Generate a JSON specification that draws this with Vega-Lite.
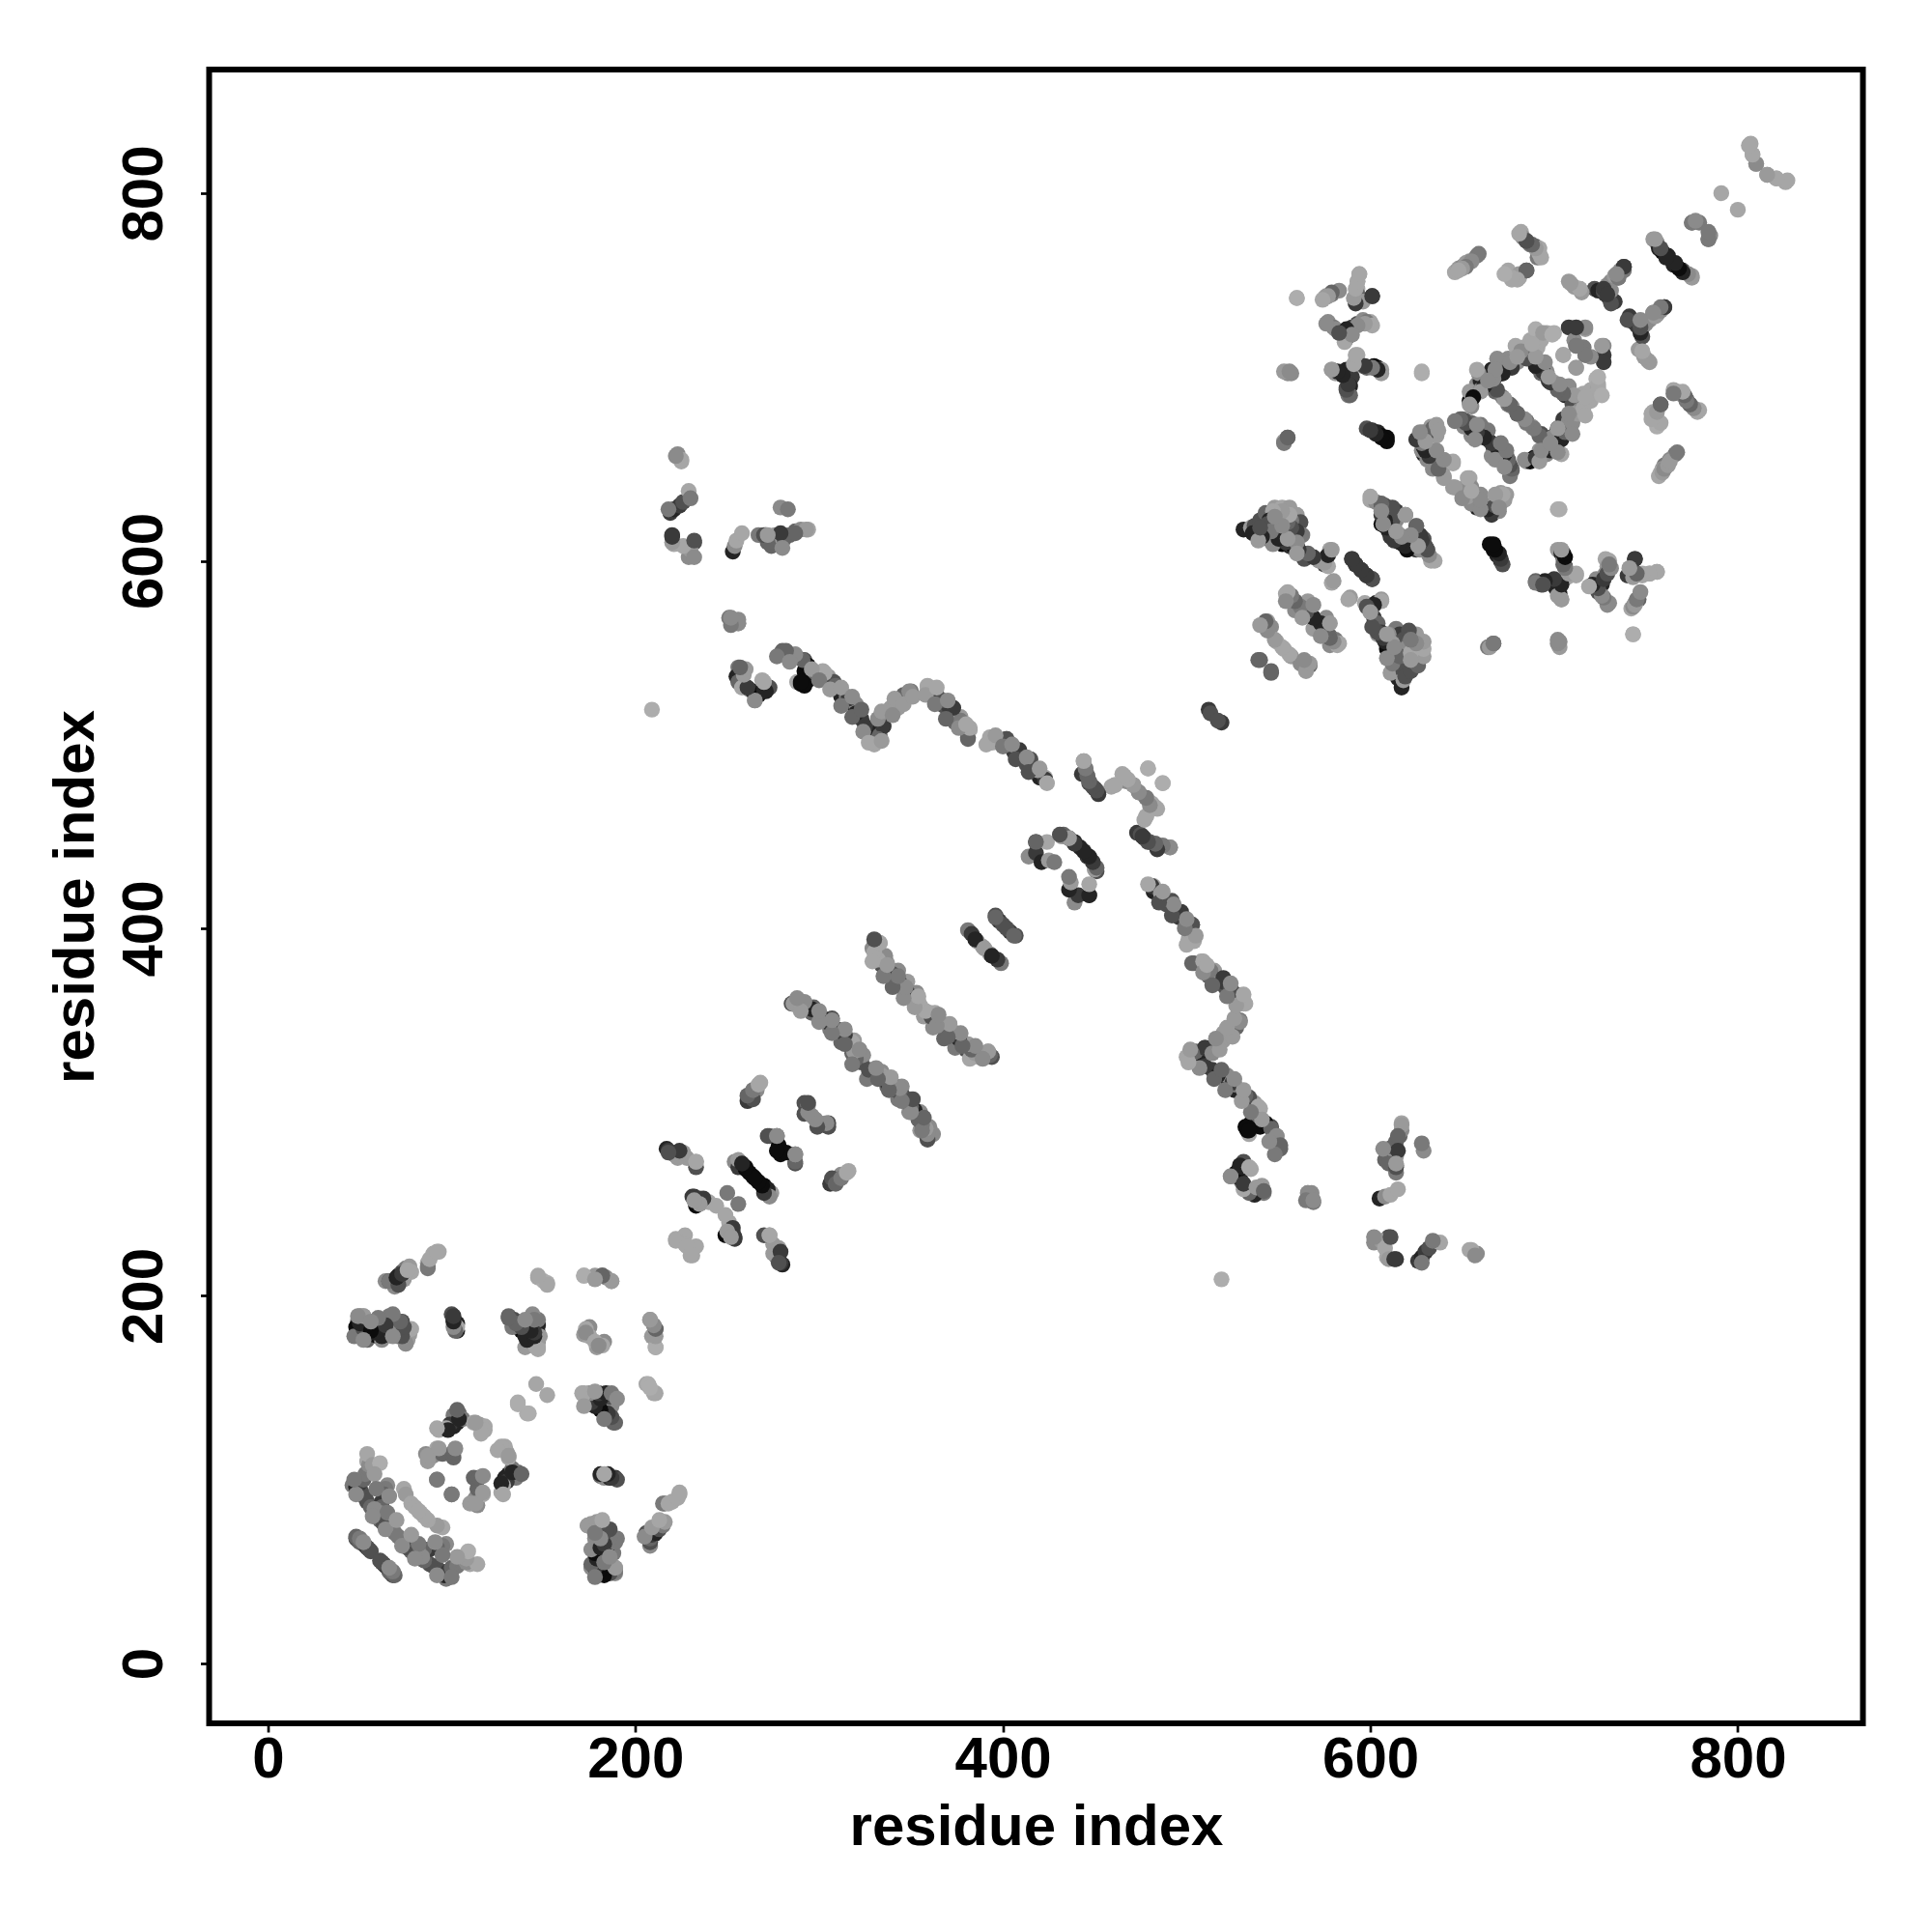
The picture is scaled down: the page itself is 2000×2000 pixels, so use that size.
{"$schema":"https://vega.github.io/schema/vega-lite/v6.json","width":1712,"height":1712,"autosize":"none","padding":{"left":216.5,"top":72,"right":71,"bottom":216},"background":"white","config":{"view":{"stroke":"black","strokeWidth":6}},
"data":{"values":[
{"a":48,"b":68,"g":6},{"a":49,"b":67,"g":6},{"a":50,"b":66,"g":5},{"a":52,"b":65,"g":5},{"a":53,"b":64,"g":6},{"a":54,"b":63,"g":7},{"a":55,"b":62,"g":6},{"a":56,"b":61,"g":6},{"a":48,"b":69,"g":5},{"a":50,"b":68,"g":4},{"a":52,"b":66,"g":3},
{"a":46,"b":97,"g":4},{"a":48,"b":96,"g":8},{"a":49,"b":98,"g":9},{"a":50,"b":95,"g":8},{"a":51,"b":93,"g":6},{"a":53,"b":90,"g":6},{"a":54,"b":88,"g":6},{"a":50,"b":98,"g":7},{"a":52,"b":100,"g":5},{"a":53,"b":103,"g":4},{"a":55,"b":106,"g":4},{"a":54,"b":110,"g":1},{"a":55,"b":108,"g":3},{"a":54,"b":114,"g":1},{"a":57,"b":108,"g":2},{"a":61,"b":109,"g":0},{"a":56,"b":85,"g":5},
{"a":65,"b":97,"g":3},{"a":64,"b":95,"g":4},{"a":63,"b":92,"g":5},{"a":62,"b":88,"g":7},{"a":62,"b":85,"g":5},{"a":61,"b":82,"g":4},{"a":60,"b":80,"g":4},{"a":61,"b":78,"g":5},{"a":63,"b":76,"g":6},{"a":65,"b":75,"g":6},{"a":67,"b":73,"g":5},{"a":69,"b":71,"g":4},
{"a":74,"b":95,"g":1},{"a":75,"b":92,"g":2},{"a":78,"b":87,"g":1},{"a":80,"b":85,"g":1},{"a":83,"b":82,"g":1},
{"a":86,"b":114,"g":3},{"a":88,"b":112,"g":2},{"a":92,"b":117,"g":1},{"a":90,"b":113,"g":3},{"a":95,"b":114,"g":5},{"a":101,"b":112,"g":5},{"a":101,"b":115,"g":5},{"a":92,"b":100,"g":4},{"a":100,"b":92,"g":4},
{"a":104,"b":136,"g":5},{"a":101,"b":135,"g":4},{"a":103,"b":131,"g":8},{"a":101,"b":129,"g":8},{"a":99,"b":130,"g":7},{"a":97,"b":128,"g":1},{"a":93,"b":127,"g":1},{"a":106,"b":133,"g":4},{"a":112,"b":131,"g":1},{"a":115,"b":130,"g":2},{"a":118,"b":129,"g":1},
{"a":87,"b":110,"g":2},{"a":87,"b":113,"g":2},{"a":93,"b":117,"g":2},{"a":102,"b":117,"g":3},{"a":98,"b":127,"g":8},{"a":92,"b":128,"g":1},{"a":118,"b":127,"g":1},{"a":116,"b":125,"g":1},{"a":113,"b":131,"g":2},{"a":104,"b":133,"g":8},{"a":103,"b":138,"g":5},
{"a":50,"b":189,"g":4},{"a":49,"b":186,"g":6},{"a":48,"b":183,"g":9},{"a":50,"b":180,"g":9},{"a":52,"b":178,"g":7},{"a":54,"b":176,"g":5},{"a":52,"b":189,"g":2},{"a":57,"b":179,"g":8},{"a":60,"b":178,"g":9},{"a":62,"b":176,"g":3},{"a":63,"b":181,"g":8},{"a":64,"b":185,"g":9},{"a":66,"b":189,"g":4},{"a":68,"b":186,"g":4},{"a":65,"b":183,"g":7},{"a":73,"b":186,"g":6},{"a":72,"b":184,"g":6},{"a":75,"b":181,"g":6},{"a":75,"b":174,"g":2},{"a":76,"b":176,"g":2},{"a":77,"b":179,"g":2},
{"a":100,"b":190,"g":6},{"a":101,"b":187,"g":7},{"a":103,"b":185,"g":8},{"a":103,"b":181,"g":8},{"a":103,"b":183,"g":1},
{"a":131,"b":189,"g":5},{"a":134,"b":187,"g":6},{"a":136,"b":185,"g":7},{"a":138,"b":181,"g":9},{"a":140,"b":178,"g":8},{"a":142,"b":176,"g":7},{"a":145,"b":186,"g":6},{"a":144,"b":181,"g":8},{"a":147,"b":180,"g":7},{"a":147,"b":184,"g":8},{"a":147,"b":187,"g":4},{"a":147,"b":175,"g":3},{"a":147,"b":172,"g":1},
{"a":64,"b":208,"g":3},{"a":66,"b":208,"g":6},{"a":68,"b":208,"g":5},{"a":70,"b":209,"g":7},{"a":71,"b":211,"g":8},{"a":73,"b":213,"g":6},{"a":75,"b":215,"g":4},{"a":77,"b":216,"g":2},{"a":87,"b":215,"g":4},{"a":87,"b":218,"g":1},{"a":90,"b":223,"g":1},{"a":93,"b":224,"g":1},
{"a":147,"b":210,"g":1},{"a":152,"b":207,"g":0},{"a":150,"b":208,"g":0},{"a":172,"b":211,"g":0},{"a":178,"b":211,"g":2},{"a":182,"b":211,"g":5},{"a":184,"b":210,"g":3},{"a":187,"b":208,"g":2},
{"a":175,"b":183,"g":3},{"a":173,"b":182,"g":1},{"a":172,"b":179,"g":2},{"a":175,"b":178,"g":1},{"a":173,"b":180,"g":3},
{"a":146,"b":152,"g":1},{"a":136,"b":142,"g":0},{"a":141,"b":136,"g":0},
{"a":171,"b":147,"g":1},{"a":172,"b":146,"g":1},{"a":176,"b":141,"g":8},{"a":178,"b":145,"g":8},{"a":180,"b":145,"g":7},{"a":181,"b":143,"g":8},{"a":183,"b":138,"g":6},{"a":185,"b":135,"g":5},{"a":187,"b":145,"g":4},{"a":187,"b":140,"g":3},{"a":188,"b":131,"g":5},
{"a":206,"b":152,"g":1},{"a":211,"b":147,"g":1},{"a":208,"b":187,"g":2},{"a":211,"b":182,"g":5},{"a":211,"b":172,"g":0},{"a":209,"b":178,"g":2},
{"a":181,"b":102,"g":5},{"a":183,"b":101,"g":3},{"a":186,"b":101,"g":8},{"a":189,"b":101,"g":7},
{"a":174,"b":75,"g":3},{"a":178,"b":73,"g":6},{"a":183,"b":74,"g":6},{"a":186,"b":72,"g":5},{"a":190,"b":68,"g":4},{"a":178,"b":62,"g":8},{"a":180,"b":58,"g":8},{"a":184,"b":64,"g":7},{"a":182,"b":52,"g":6},{"a":185,"b":50,"g":8},{"a":189,"b":52,"g":2},{"a":181,"b":56,"g":9},
{"a":208,"b":66,"g":4},{"a":206,"b":71,"g":6},{"a":210,"b":70,"g":8},{"a":212,"b":73,"g":7},{"a":214,"b":76,"g":1},{"a":216,"b":87,"g":4},{"a":220,"b":88,"g":1},{"a":224,"b":92,"g":1},
{"a":217,"b":280,"g":8},{"a":219,"b":278,"g":7},{"a":221,"b":277,"g":5},{"a":224,"b":276,"g":4},{"a":228,"b":275,"g":2},{"a":233,"b":270,"g":6},{"a":233,"b":273,"g":2},
{"a":254,"b":273,"g":3},{"a":256,"b":270,"g":7},{"a":260,"b":269,"g":9},{"a":262,"b":267,"g":9},{"a":264,"b":265,"g":9},
{"a":270,"b":260,"g":9},{"a":274,"b":256,"g":2},{"a":272,"b":258,"g":8},
{"a":273,"b":287,"g":5},{"a":277,"b":287,"g":2},{"a":278,"b":282,"g":9},{"a":277,"b":287,"g":3},{"a":279,"b":277,"g":9},{"a":287,"b":272,"g":6},{"a":287,"b":277,"g":3},
{"a":292,"b":305,"g":6},{"a":294,"b":304,"g":3},{"a":292,"b":299,"g":6},{"a":296,"b":298,"g":3},{"a":300,"b":294,"g":3},{"a":305,"b":294,"g":6},
{"a":261,"b":306,"g":7},{"a":263,"b":310,"g":5},{"a":266,"b":312,"g":3},{"a":268,"b":316,"g":1},
{"a":264,"b":307,"g":6},{"a":261,"b":309,"g":5},{"a":264,"b":312,"g":4},{"a":267,"b":315,"g":1},
{"a":231,"b":254,"g":7},{"a":233,"b":253,"g":8},{"a":235,"b":253,"g":5},{"a":237,"b":252,"g":1},{"a":240,"b":251,"g":1},{"a":244,"b":249,"g":1},{"a":237,"b":253,"g":7},{"a":250,"b":256,"g":4},{"a":232,"b":254,"g":7},{"a":233,"b":249,"g":9},{"a":235,"b":250,"g":2},{"a":232,"b":252,"g":2},{"a":222,"b":231,"g":1},{"a":227,"b":233,"g":1},{"a":227,"b":228,"g":1},{"a":222,"b":230,"g":1},
{"a":218,"b":279,"g":7},{"a":223,"b":275,"g":2},{"a":233,"b":273,"g":1},{"a":226,"b":278,"g":2},{"a":224,"b":279,"g":7},{"a":218,"b":278,"g":6},
{"a":381,"b":399,"g":4},{"a":383,"b":397,"g":7},{"a":386,"b":393,"g":2},{"a":389,"b":390,"g":2},{"a":385,"b":394,"g":8},{"a":396,"b":407,"g":6},{"a":398,"b":404,"g":7},{"a":400,"b":402,"g":6},{"a":396,"b":406,"g":5},
{"a":285,"b":359,"g":6},{"a":288,"b":359,"g":3},{"a":291,"b":358,"g":2},{"a":293,"b":356,"g":4},{"a":296,"b":354,"g":5},{"a":301,"b":352,"g":8},{"a":303,"b":350,"g":5},{"a":306,"b":348,"g":7},{"a":308,"b":346,"g":6},{"a":310,"b":344,"g":5},{"a":312,"b":342,"g":6},{"a":314,"b":340,"g":7},{"a":316,"b":337,"g":8},{"a":318,"b":336,"g":5},{"a":320,"b":334,"g":2},{"a":321,"b":331,"g":3},{"a":323,"b":327,"g":6},{"a":329,"b":320,"g":5},{"a":333,"b":319,"g":2},{"a":338,"b":318,"g":1},{"a":342,"b":314,"g":7},{"a":345,"b":310,"g":6},{"a":348,"b":306,"g":7},{"a":351,"b":302,"g":8},{"a":353,"b":299,"g":5},{"a":356,"b":296,"g":8},{"a":358,"b":288,"g":3},{"a":360,"b":292,"g":3},{"a":359,"b":286,"g":2},
{"a":331,"b":393,"g":5},{"a":333,"b":392,"g":2},{"a":332,"b":385,"g":2},{"a":334,"b":383,"g":5},{"a":337,"b":381,"g":2},{"a":340,"b":376,"g":8},{"a":342,"b":374,"g":7},{"a":344,"b":371,"g":5},{"a":347,"b":368,"g":3},{"a":350,"b":365,"g":8},{"a":352,"b":361,"g":6},{"a":355,"b":358,"g":1},{"a":360,"b":354,"g":1},{"a":363,"b":350,"g":2},{"a":365,"b":348,"g":7},{"a":370,"b":344,"g":7},{"a":372,"b":342,"g":6},{"a":375,"b":340,"g":6},{"a":377,"b":336,"g":8},{"a":380,"b":334,"g":6},{"a":383,"b":332,"g":1},{"a":387,"b":330,"g":1},{"a":392,"b":333,"g":1},{"a":394,"b":330,"g":6},
{"a":223,"b":658,"g":3},{"a":225,"b":655,"g":1},
{"a":219,"b":626,"g":7},{"a":221,"b":628,"g":8},{"a":224,"b":630,"g":7},{"a":226,"b":632,"g":6},{"a":218,"b":628,"g":4},{"a":229,"b":638,"g":1},{"a":230,"b":634,"g":4},
{"a":220,"b":614,"g":7},{"a":221,"b":609,"g":1},{"a":232,"b":610,"g":6},{"a":229,"b":602,"g":3},{"a":230,"b":606,"g":2},{"a":226,"b":608,"g":1},
{"a":253,"b":605,"g":8},{"a":254,"b":608,"g":3},{"a":255,"b":611,"g":1},{"a":258,"b":615,"g":1},
{"a":267,"b":614,"g":4},{"a":271,"b":614,"g":8},{"a":274,"b":608,"g":5},{"a":276,"b":614,"g":2},{"a":281,"b":612,"g":5},{"a":284,"b":614,"g":5},{"a":287,"b":616,"g":5},{"a":290,"b":617,"g":3},{"a":294,"b":617,"g":1},
{"a":279,"b":629,"g":3},{"a":283,"b":628,"g":4},
{"a":251,"b":569,"g":4},{"a":253,"b":567,"g":3},{"a":256,"b":566,"g":2},{"a":256,"b":568,"g":3},
{"a":256,"b":542,"g":4},{"a":260,"b":541,"g":2},{"a":255,"b":537,"g":8},{"a":256,"b":534,"g":5},{"a":258,"b":531,"g":1},{"a":262,"b":530,"g":3},{"a":265,"b":524,"g":1},{"a":264,"b":529,"g":8},{"a":267,"b":527,"g":9},{"a":269,"b":535,"g":1},{"a":270,"b":530,"g":8},{"a":273,"b":531,"g":6},
{"a":209,"b":519,"g":0},{"a":512,"b":519,"g":7},{"a":513,"b":517,"g":6},
{"a":280,"b":551,"g":5},{"a":283,"b":549,"g":6},{"a":287,"b":549,"g":3},{"a":292,"b":546,"g":6},{"a":288,"b":534,"g":1},{"a":290,"b":533,"g":9},{"a":292,"b":532,"g":9},{"a":294,"b":535,"g":9},{"a":292,"b":540,"g":9},{"a":294,"b":543,"g":9},{"a":298,"b":539,"g":5},{"a":302,"b":540,"g":1},{"a":305,"b":537,"g":2},{"a":308,"b":534,"g":6},{"a":310,"b":531,"g":5},{"a":312,"b":526,"g":8},{"a":315,"b":526,"g":4},{"a":318,"b":522,"g":8},{"a":320,"b":522,"g":3},{"a":323,"b":514,"g":7},{"a":326,"b":509,"g":6},{"a":329,"b":504,"g":1},{"a":330,"b":501,"g":1},{"a":330,"b":506,"g":8},{"a":333,"b":505,"g":5},{"a":335,"b":510,"g":7},{"a":337,"b":516,"g":2},{"a":339,"b":520,"g":2},{"a":342,"b":522,"g":3},{"a":345,"b":523,"g":8},{"a":346,"b":527,"g":5},{"a":350,"b":529,"g":4},
{"a":359,"b":532,"g":1},{"a":361,"b":529,"g":3},{"a":364,"b":527,"g":5},{"a":366,"b":524,"g":7},{"a":368,"b":521,"g":6},{"a":371,"b":520,"g":7},{"a":372,"b":515,"g":8},{"a":374,"b":512,"g":5},{"a":377,"b":515,"g":2},{"a":381,"b":504,"g":5},{"a":382,"b":508,"g":1},
{"a":394,"b":503,"g":1},{"a":397,"b":502,"g":4},{"a":402,"b":503,"g":5},{"a":404,"b":499,"g":6},{"a":406,"b":496,"g":7},{"a":409,"b":496,"g":6},{"a":411,"b":492,"g":7},{"a":413,"b":489,"g":6},{"a":416,"b":488,"g":4},{"a":418,"b":485,"g":5},{"a":420,"b":482,"g":8},{"a":423,"b":482,"g":1},
{"a":444,"b":491,"g":3},{"a":445,"b":487,"g":4},{"a":443,"b":484,"g":7},{"a":446,"b":483,"g":5},{"a":447,"b":479,"g":6},{"a":450,"b":476,"g":7},
{"a":459,"b":477,"g":1},{"a":461,"b":478,"g":1},{"a":465,"b":484,"g":1},{"a":467,"b":480,"g":3},{"a":471,"b":478,"g":4},{"a":474,"b":474,"g":3},{"a":478,"b":471,"g":2},{"a":478,"b":461,"g":1},{"a":481,"b":468,"g":1},{"a":483,"b":466,"g":1},{"a":479,"b":487,"g":0},{"a":487,"b":479,"g":0},
{"a":473,"b":452,"g":7},{"a":475,"b":451,"g":6},{"a":477,"b":449,"g":6},{"a":480,"b":447,"g":5},{"a":483,"b":446,"g":5},{"a":487,"b":445,"g":4},{"a":491,"b":444,"g":1},
{"a":414,"b":439,"g":3},{"a":418,"b":441,"g":7},{"a":418,"b":447,"g":8},{"a":421,"b":436,"g":8},{"a":424,"b":447,"g":1},{"a":425,"b":437,"g":2},{"a":428,"b":436,"g":4},{"a":432,"b":450,"g":2},{"a":433,"b":451,"g":5},{"a":436,"b":449,"g":7},{"a":439,"b":447,"g":8},{"a":442,"b":444,"g":8},{"a":446,"b":439,"g":7},{"a":449,"b":436,"g":2},{"a":447,"b":418,"g":5},{"a":451,"b":431,"g":6},
{"a":423,"b":481,"g":7},{"a":419,"b":486,"g":2},{"a":415,"b":492,"g":6},{"a":409,"b":497,"g":7},{"a":402,"b":503,"g":6},{"a":393,"b":504,"g":1},{"a":394,"b":501,"g":1},{"a":381,"b":503,"g":5},{"a":382,"b":509,"g":1},{"a":377,"b":513,"g":4},{"a":373,"b":520,"g":7},{"a":367,"b":524,"g":6},{"a":359,"b":531,"g":1},{"a":349,"b":529,"g":3},{"a":343,"b":520,"g":2},{"a":337,"b":518,"g":2},{"a":335,"b":510,"g":7},{"a":332,"b":503,"g":5},{"a":330,"b":500,"g":1},{"a":325,"b":510,"g":7},{"a":320,"b":517,"g":8},{"a":316,"b":525,"g":7},{"a":309,"b":532,"g":5},{"a":303,"b":539,"g":1},{"a":292,"b":533,"g":9},{"a":290,"b":534,"g":9},{"a":291,"b":546,"g":5},{"a":287,"b":549,"g":3},{"a":282,"b":551,"g":5},
{"a":271,"b":529,"g":8},{"a":270,"b":534,"g":1},{"a":265,"b":524,"g":3},{"a":261,"b":531,"g":7},{"a":259,"b":538,"g":2},{"a":257,"b":542,"g":5},
{"a":256,"b":566,"g":3},{"a":252,"b":565,"g":4},{"a":252,"b":569,"g":3},
{"a":293,"b":617,"g":2},{"a":287,"b":615,"g":5},{"a":279,"b":615,"g":7},{"a":272,"b":610,"g":5},{"a":270,"b":614,"g":6},{"a":272,"b":614,"g":2},{"a":280,"b":607,"g":3},
{"a":232,"b":611,"g":6},{"a":220,"b":610,"g":2},{"a":220,"b":613,"g":7},{"a":232,"b":602,"g":3},
{"a":225,"b":654,"g":1},{"a":222,"b":657,"g":3},
{"a":807,"b":827,"g":1},{"a":808,"b":821,"g":1},{"a":810,"b":816,"g":2},{"a":816,"b":810,"g":3},{"a":821,"b":808,"g":1},{"a":826,"b":806,"g":1},
{"a":791,"b":800,"g":1},{"a":775,"b":784,"g":4},{"a":779,"b":784,"g":4},{"a":784,"b":775,"g":4},{"a":785,"b":777,"g":3},
{"a":754,"b":775,"g":2},{"a":756,"b":773,"g":3},{"a":757,"b":770,"g":8},{"a":759,"b":768,"g":9},{"a":762,"b":766,"g":8},{"a":765,"b":761,"g":8},{"a":770,"b":758,"g":6},{"a":775,"b":755,"g":2},
{"a":722,"b":748,"g":6},{"a":724,"b":747,"g":8},{"a":727,"b":746,"g":7},{"a":729,"b":750,"g":3},{"a":731,"b":752,"g":3},{"a":733,"b":755,"g":2},{"a":736,"b":758,"g":3},{"a":738,"b":760,"g":7},{"a":728,"b":745,"g":7},{"a":730,"b":743,"g":7},{"a":733,"b":741,"g":7},{"a":727,"b":747,"g":6},{"a":731,"b":740,"g":6},
{"a":738,"b":758,"g":4},{"a":735,"b":754,"g":3},{"a":731,"b":747,"g":3},{"a":748,"b":727,"g":7},{"a":754,"b":735,"g":4},{"a":760,"b":738,"g":7},{"a":756,"b":734,"g":3},{"a":745,"b":729,"g":7},
{"a":646,"b":757,"g":1},{"a":648,"b":759,"g":2},{"a":650,"b":760,"g":3},{"a":652,"b":762,"g":2},{"a":654,"b":763,"g":2},{"a":659,"b":767,"g":4},
{"a":681,"b":754,"g":1},{"a":675,"b":758,"g":1},{"a":677,"b":753,"g":1},{"a":681,"b":756,"g":2},{"a":685,"b":758,"g":5},{"a":682,"b":779,"g":1},{"a":683,"b":776,"g":3},{"a":685,"b":774,"g":5},{"a":687,"b":772,"g":4},{"a":690,"b":771,"g":5},{"a":692,"b":770,"g":1},{"a":691,"b":765,"g":4},
{"a":708,"b":752,"g":2},{"a":711,"b":749,"g":2},{"a":714,"b":748,"g":1},{"a":560,"b":743,"g":0},
{"a":575,"b":743,"g":3},{"a":576,"b":744,"g":2},{"a":579,"b":745,"g":4},{"a":583,"b":747,"g":3},
{"a":594,"b":756,"g":1},{"a":593,"b":752,"g":1},{"a":593,"b":748,"g":1},{"a":593,"b":745,"g":5},{"a":601,"b":744,"g":7},{"a":596,"b":741,"g":2},
{"a":577,"b":730,"g":3},{"a":580,"b":727,"g":4},{"a":581,"b":726,"g":3},{"a":585,"b":724,"g":6},{"a":587,"b":721,"g":8},{"a":586,"b":719,"g":1},{"a":590,"b":727,"g":7},{"a":593,"b":729,"g":6},{"a":596,"b":731,"g":3},{"a":600,"b":730,"g":1},{"a":598,"b":730,"g":4},
{"a":555,"b":702,"g":3},{"a":557,"b":702,"g":3},{"a":579,"b":704,"g":2},{"a":581,"b":702,"g":2},{"a":587,"b":704,"g":8},{"a":590,"b":700,"g":7},{"a":589,"b":695,"g":8},{"a":588,"b":690,"g":4},{"a":587,"b":694,"g":6},{"a":593,"b":708,"g":2},{"a":593,"b":712,"g":1},{"a":596,"b":706,"g":4},{"a":598,"b":705,"g":5},{"a":602,"b":706,"g":9},{"a":604,"b":705,"g":9},{"a":606,"b":704,"g":2},{"a":628,"b":702,"g":0},
{"a":553,"b":665,"g":2},{"a":555,"b":667,"g":4},
{"a":598,"b":672,"g":6},{"a":601,"b":671,"g":7},{"a":604,"b":670,"g":8},{"a":606,"b":668,"g":9},{"a":609,"b":667,"g":9},
{"a":626,"b":666,"g":7},{"a":628,"b":664,"g":8},{"a":630,"b":668,"g":6},{"a":633,"b":673,"g":2},{"a":636,"b":672,"g":1},{"a":629,"b":658,"g":8},{"a":631,"b":655,"g":3},{"a":635,"b":653,"g":2},{"a":639,"b":650,"g":3},{"a":645,"b":653,"g":1},{"a":640,"b":646,"g":2},{"a":645,"b":640,"g":2},{"a":654,"b":645,"g":1},{"a":654,"b":635,"g":3},{"a":650,"b":637,"g":5},{"a":657,"b":632,"g":7},{"a":660,"b":630,"g":8},{"a":662,"b":629,"g":8},{"a":664,"b":628,"g":4},{"a":666,"b":625,"g":7},{"a":668,"b":630,"g":7},{"a":672,"b":634,"g":5},{"a":674,"b":636,"g":2},
{"a":650,"b":677,"g":5},{"a":652,"b":676,"g":6},{"a":655,"b":675,"g":5},{"a":658,"b":673,"g":8},{"a":660,"b":670,"g":9},{"a":662,"b":669,"g":8},{"a":664,"b":666,"g":7},{"a":667,"b":662,"g":8},{"a":670,"b":658,"g":7},{"a":672,"b":655,"g":8},{"a":675,"b":652,"g":6},{"a":677,"b":649,"g":5},
{"a":654,"b":687,"g":9},{"a":655,"b":684,"g":3},{"a":656,"b":690,"g":7},{"a":658,"b":696,"g":3},{"a":660,"b":698,"g":8},{"a":663,"b":701,"g":7},{"a":666,"b":704,"g":8},{"a":670,"b":706,"g":5},{"a":675,"b":710,"g":3},{"a":680,"b":713,"g":2},{"a":683,"b":716,"g":1},{"a":687,"b":720,"g":1},{"a":691,"b":723,"g":1},{"a":696,"b":724,"g":1},{"a":700,"b":724,"g":0},
{"a":668,"b":692,"g":5},{"a":672,"b":689,"g":4},{"a":675,"b":685,"g":4},{"a":677,"b":684,"g":3},{"a":680,"b":680,"g":5},{"a":685,"b":676,"g":5},{"a":688,"b":673,"g":2},{"a":693,"b":669,"g":6},
{"a":691,"b":705,"g":5},{"a":693,"b":702,"g":5},{"a":697,"b":698,"g":7},{"a":703,"b":694,"g":7},{"a":706,"b":690,"g":8},{"a":710,"b":685,"g":6},{"a":714,"b":682,"g":3},{"a":716,"b":691,"g":1},{"a":720,"b":693,"g":1},{"a":724,"b":694,"g":2},{"a":723,"b":699,"g":0},
{"a":705,"b":677,"g":7},{"a":702,"b":672,"g":8},{"a":700,"b":668,"g":8},{"a":695,"b":662,"g":8},{"a":692,"b":660,"g":2},{"a":689,"b":656,"g":9},{"a":685,"b":654,"g":2},{"a":704,"b":658,"g":1},{"a":699,"b":667,"g":3},
{"a":708,"b":727,"g":7},{"a":711,"b":720,"g":3},{"a":717,"b":726,"g":2},{"a":716,"b":716,"g":4},{"a":712,"b":717,"g":4},{"a":727,"b":717,"g":3},{"a":705,"b":712,"g":2},{"a":717,"b":712,"g":4},{"a":727,"b":712,"g":7},{"a":712,"b":705,"g":1},
{"a":746,"b":715,"g":2},{"a":748,"b":714,"g":1},{"a":751,"b":709,"g":2},
{"a":765,"b":693,"g":1},{"a":767,"b":692,"g":1},{"a":770,"b":690,"g":2},{"a":772,"b":688,"g":5},{"a":774,"b":685,"g":6},{"a":778,"b":681,"g":1},{"a":758,"b":685,"g":5},{"a":753,"b":680,"g":1},{"a":754,"b":677,"g":1},{"a":756,"b":673,"g":0},
{"a":766,"b":658,"g":4},{"a":763,"b":655,"g":3},{"a":760,"b":652,"g":4},{"a":759,"b":650,"g":2},{"a":758,"b":648,"g":1},
{"a":531,"b":617,"g":8},{"a":535,"b":618,"g":2},{"a":537,"b":619,"g":6},{"a":540,"b":622,"g":6},{"a":543,"b":626,"g":5},{"a":548,"b":629,"g":2},{"a":552,"b":629,"g":1},{"a":556,"b":629,"g":2},{"a":560,"b":625,"g":2},{"a":562,"b":621,"g":6},{"a":544,"b":612,"g":4},{"a":548,"b":616,"g":5},{"a":552,"b":609,"g":9},{"a":556,"b":608,"g":8},{"a":558,"b":607,"g":7},{"a":561,"b":604,"g":6},{"a":564,"b":601,"g":6},{"a":578,"b":606,"g":1},{"a":576,"b":602,"g":8},{"a":575,"b":598,"g":6},{"a":572,"b":600,"g":2},{"a":579,"b":588,"g":1},{"a":590,"b":601,"g":6},{"a":592,"b":598,"g":7},{"a":595,"b":595,"g":7},{"a":598,"b":592,"g":7},{"a":601,"b":590,"g":7},
{"a":589,"b":580,"g":2},{"a":597,"b":577,"g":1},{"a":599,"b":575,"g":2},{"a":603,"b":577,"g":8},{"a":606,"b":579,"g":2},
{"a":554,"b":582,"g":1},{"a":556,"b":580,"g":3},{"a":558,"b":578,"g":5},{"a":562,"b":576,"g":5},{"a":566,"b":573,"g":8},{"a":569,"b":569,"g":8},{"a":572,"b":565,"g":6},{"a":575,"b":562,"g":4},{"a":578,"b":559,"g":5},{"a":581,"b":557,"g":4},{"a":583,"b":555,"g":1},
{"a":544,"b":567,"g":2},{"a":546,"b":564,"g":3},{"a":549,"b":556,"g":1},{"a":553,"b":552,"g":1},{"a":557,"b":548,"g":2},{"a":540,"b":546,"g":5},{"a":546,"b":539,"g":5},{"a":562,"b":544,"g":3},{"a":567,"b":543,"g":5},{"a":565,"b":540,"g":2},
{"a":600,"b":633,"g":1},{"a":603,"b":632,"g":3},{"a":606,"b":631,"g":6},{"a":608,"b":630,"g":6},{"a":611,"b":628,"g":7},{"a":614,"b":627,"g":7},{"a":619,"b":625,"g":5},{"a":606,"b":620,"g":9},{"a":608,"b":619,"g":8},{"a":610,"b":616,"g":8},{"a":611,"b":613,"g":7},{"a":622,"b":612,"g":6},{"a":618,"b":609,"g":8},{"a":622,"b":608,"g":8},{"a":625,"b":606,"g":7},{"a":625,"b":619,"g":2},{"a":629,"b":612,"g":6},{"a":631,"b":606,"g":5},{"a":635,"b":600,"g":1},
{"a":602,"b":569,"g":7},{"a":604,"b":566,"g":5},{"a":606,"b":561,"g":7},{"a":608,"b":558,"g":9},{"a":610,"b":554,"g":7},{"a":612,"b":550,"g":8},{"a":614,"b":563,"g":4},{"a":616,"b":560,"g":7},{"a":618,"b":557,"g":6},{"a":621,"b":555,"g":5},{"a":625,"b":556,"g":1},{"a":627,"b":552,"g":2},{"a":627,"b":547,"g":1},{"a":622,"b":545,"g":8},{"a":620,"b":544,"g":6},{"a":616,"b":546,"g":4},{"a":613,"b":541,"g":8},{"a":615,"b":536,"g":8},{"a":611,"b":539,"g":2},{"a":618,"b":540,"g":6},
{"a":664,"b":553,"g":4},{"a":667,"b":555,"g":5},{"a":665,"b":609,"g":9},{"a":667,"b":606,"g":9},{"a":669,"b":603,"g":8},{"a":671,"b":600,"g":7},
{"a":703,"b":628,"g":0},{"a":703,"b":553,"g":2},{"a":703,"b":556,"g":3},{"a":743,"b":560,"g":0},
{"a":690,"b":589,"g":5},{"a":693,"b":587,"g":6},{"a":696,"b":588,"g":7},{"a":701,"b":585,"g":8},{"a":703,"b":582,"g":8},{"a":704,"b":579,"g":2},{"a":702,"b":606,"g":2},{"a":704,"b":604,"g":8},{"a":705,"b":601,"g":4},{"a":706,"b":597,"g":7},{"a":707,"b":591,"g":1},{"a":712,"b":592,"g":1},
{"a":728,"b":601,"g":1},{"a":729,"b":597,"g":2},{"a":728,"b":593,"g":3},{"a":726,"b":587,"g":8},{"a":723,"b":590,"g":3},{"a":729,"b":576,"g":3},{"a":724,"b":583,"g":6},{"a":740,"b":592,"g":7},{"a":744,"b":601,"g":7},{"a":743,"b":591,"g":2},{"a":748,"b":592,"g":1},{"a":752,"b":593,"g":1},{"a":756,"b":594,"g":1},{"a":746,"b":579,"g":5},{"a":744,"b":577,"g":2},{"a":742,"b":574,"g":1},
{"a":290,"b":356,"g":4},{"a":297,"b":357,"g":5},{"a":300,"b":350,"g":3},{"a":307,"b":351,"g":6},{"a":306,"b":345,"g":4},{"a":313,"b":344,"g":3},{"a":312,"b":338,"g":5},{"a":319,"b":339,"g":2},{"a":318,"b":332,"g":5},{"a":324,"b":331,"g":3},{"a":326,"b":318,"g":4},{"a":334,"b":322,"g":3},{"a":337,"b":314,"g":5},{"a":345,"b":314,"g":3},{"a":343,"b":307,"g":4},{"a":350,"b":307,"g":3},{"a":349,"b":300,"g":3},{"a":355,"b":300,"g":3},{"a":355,"b":290,"g":2},{"a":362,"b":288,"g":3},
{"a":329,"b":389,"g":3},{"a":336,"b":385,"g":3},{"a":336,"b":378,"g":5},{"a":343,"b":377,"g":3},{"a":341,"b":370,"g":5},{"a":348,"b":371,"g":2},{"a":347,"b":364,"g":3},{"a":353,"b":365,"g":3},{"a":357,"b":352,"g":2},{"a":363,"b":354,"g":1},{"a":362,"b":346,"g":3},{"a":368,"b":347,"g":3},{"a":368,"b":340,"g":5},{"a":374,"b":343,"g":4},{"a":374,"b":335,"g":4},{"a":380,"b":337,"g":2},{"a":382,"b":329,"g":1},
{"a":277,"b":548,"g":4},{"a":284,"b":545,"g":3},{"a":296,"b":541,"g":2},{"a":300,"b":535,"g":4},{"a":306,"b":530,"g":2},{"a":312,"b":531,"g":2},{"a":312,"b":521,"g":4},{"a":318,"b":526,"g":3},{"a":318,"b":515,"g":5},{"a":323,"b":519,"g":5},{"a":324,"b":507,"g":3},{"a":327,"b":501,"g":1},{"a":334,"b":502,"g":2},{"a":332,"b":514,"g":3},{"a":334,"b":518,"g":2},{"a":340,"b":516,"g":3},{"a":341,"b":525,"g":2},{"a":346,"b":522,"g":2},{"a":351,"b":526,"g":2},{"a":358,"b":527,"g":2},{"a":364,"b":531,"g":1},{"a":363,"b":522,"g":4},{"a":370,"b":524,"g":3},{"a":369,"b":514,"g":5},{"a":376,"b":509,"g":3},{"a":380,"b":511,"g":1},
{"a":391,"b":500,"g":1},{"a":396,"b":505,"g":2},{"a":400,"b":499,"g":4},{"a":405,"b":500,"g":3},{"a":407,"b":492,"g":6},{"a":413,"b":493,"g":3},{"a":414,"b":485,"g":6},{"a":420,"b":487,"g":2},{"a":424,"b":479,"g":1},
{"a":654,"b":692,"g":2},{"a":660,"b":693,"g":3},{"a":659,"b":702,"g":3},{"a":664,"b":698,"g":3},{"a":669,"b":710,"g":3},{"a":672,"b":702,"g":2},{"a":679,"b":717,"g":1},{"a":680,"b":708,"g":3},{"a":689,"b":717,"g":1},{"a":690,"b":726,"g":0},
{"a":655,"b":668,"g":3},{"a":651,"b":673,"g":3},{"a":660,"b":674,"g":4},{"a":664,"b":671,"g":4},{"a":666,"b":657,"g":3},{"a":674,"b":658,"g":3},{"a":676,"b":646,"g":4},
{"a":696,"b":703,"g":3},{"a":700,"b":697,"g":2},{"a":708,"b":695,"g":3},{"a":711,"b":690,"g":2},{"a":718,"b":688,"g":1},{"a":704,"b":668,"g":3},{"a":698,"b":664,"g":3},{"a":708,"b":676,"g":3},{"a":711,"b":680,"g":2},
{"a":628,"b":660,"g":3},{"a":633,"b":660,"g":3},{"a":634,"b":650,"g":3},{"a":638,"b":655,"g":1},{"a":636,"b":668,"g":2},{"a":629,"b":670,"g":3},
{"a":655,"b":640,"g":3},{"a":660,"b":636,"g":3},{"a":665,"b":630,"g":2},{"a":670,"b":627,"g":3},{"a":671,"b":637,"g":2},
{"a":608,"b":626,"g":2},{"a":614,"b":622,"g":3},{"a":613,"b":617,"g":3},{"a":616,"b":614,"g":2},{"a":620,"b":607,"g":3},{"a":627,"b":606,"g":3},{"a":610,"b":560,"g":3},{"a":612,"b":555,"g":2},{"a":604,"b":560,"g":2},{"a":619,"b":552,"g":3},{"a":624,"b":548,"g":3},
{"a":550,"b":622,"g":1},{"a":555,"b":625,"g":3},{"a":546,"b":622,"g":2},{"a":557,"b":622,"g":4},{"a":547,"b":609,"g":3},{"a":553,"b":613,"g":3},{"a":560,"b":609,"g":2},
{"a":559,"b":573,"g":3},{"a":566,"b":578,"g":2},{"a":569,"b":563,"g":2},{"a":576,"b":569,"g":3},{"a":578,"b":554,"g":3},
{"a":48,"b":92,"g":3},{"a":47,"b":100,"g":4},{"a":58,"b":103,"g":2},{"a":59,"b":95,"g":4},{"a":58,"b":84,"g":3},{"a":66,"b":91,"g":3},{"a":65,"b":82,"g":4},{"a":57,"b":80,"g":3},{"a":64,"b":73,"g":3},{"a":70,"b":78,"g":2},
{"a":47,"b":178,"g":4},{"a":55,"b":183,"g":4},{"a":58,"b":186,"g":3},{"a":68,"b":181,"g":3},{"a":71,"b":178,"g":4},{"a":78,"b":182,"g":1},
{"a":133,"b":183,"g":4},{"a":140,"b":172,"g":2},{"a":144,"b":190,"g":3},{"a":148,"b":178,"g":2},
{"a":69,"b":205,"g":3},{"a":74,"b":209,"g":2},{"a":78,"b":213,"g":1},{"a":178,"b":68,"g":3},{"a":176,"b":52,"g":3},{"a":188,"b":60,"g":4},{"a":189,"b":49,"g":3},{"a":186,"b":56,"g":3}
]},
"layer":[
{"mark":{"type":"circle","size":270,"opacity":1},"encoding":{"x":{"field":"a","type":"quantitative","scale":{"domain":[-32,868.1],"nice":false,"zero":false},"axis":{"values":[0,200,400,600,800],"title":"residue index","grid":false,"domain":false,"tickColor":"black","tickSize":9,"tickWidth":2.7,"labelFont":"Liberation Sans","labelFontWeight":"bold","labelFontSize":60,"labelColor":"black","labelPadding":-1,"labelFlush":false,"titleFont":"Liberation Sans","titleFontWeight":"bold","titleFontSize":60,"titleColor":"black","titlePadding":11}},"y":{"field":"b","type":"quantitative","scale":{"domain":[-32.6,867.3],"nice":false,"zero":false},"axis":{"values":[0,200,400,600,800],"title":"residue index","grid":false,"domain":false,"tickColor":"black","tickSize":9,"tickWidth":2.7,"labelFont":"Liberation Sans","labelFontWeight":"bold","labelFontSize":60,"labelColor":"black","labelAngle":-90,"labelAlign":"center","labelBaseline":"bottom","labelPadding":27,"labelFlush":false,"titleFont":"Liberation Sans","titleFontWeight":"bold","titleFontSize":60,"titleColor":"black","titlePadding":10}},"color":{"field":"g","type":"quantitative","legend":null,"scale":{"type":"pow","exponent":1.5,"domain":[0,9],"range":["#adadad","#0c0c0c"]}}}},
{"mark":{"type":"circle","size":270,"opacity":1},"encoding":{"x":{"field":"b","type":"quantitative"},"y":{"field":"a","type":"quantitative"},"color":{"field":"g","type":"quantitative","legend":null,"scale":{"type":"pow","exponent":1.5,"domain":[0,9],"range":["#adadad","#0c0c0c"]}}}}
]}
